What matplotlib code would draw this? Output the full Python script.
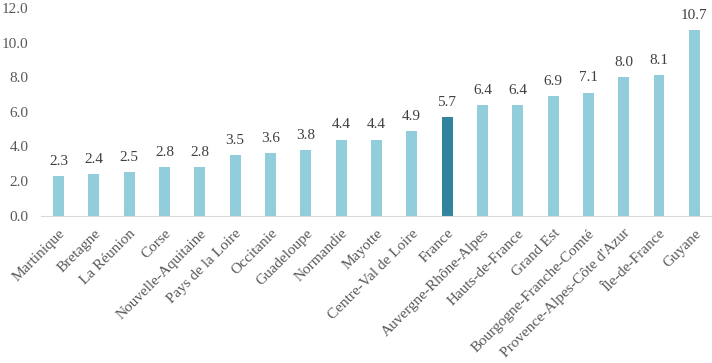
import matplotlib.pyplot as plt

regions = ["Martinique", "Bretagne", "La Réunion", "Corse", "Nouvelle-Aquitaine",
           "Pays de la Loire", "Occitanie", "Guadeloupe", "Normandie", "Mayotte",
           "Centre-Val de Loire", "France", "Auvergne-Rhône-Alpes", "Hauts-de-France",
           "Grand Est", "Bourgogne-Franche-Comté", "Provence-Alpes-Côte d'Azur",
           "Île-de-France", "Guyane"]
values = [2.3, 2.4, 2.5, 2.8, 2.8, 3.5, 3.6, 3.8, 4.4, 4.4, 4.9, 5.7, 6.4, 6.4,
          6.9, 7.1, 8.0, 8.1, 10.7]
highlight = "France"
yticks = [0, 2, 4, 6, 8, 10, 12]

plt.rcParams['font.family'] = ['Liberation Serif', 'DejaVu Serif']
txt = '#595959'

fig = plt.figure(figsize=(7.12, 3.63), dpi=100)
ax = fig.add_axes([0.0573, 0.4058, 0.9427, 0.5722])

colors = ['#31849B' if r == highlight else '#92CDDC' for r in regions]
x = range(len(regions))
bars = ax.bar(x, values, width=0.31, color=colors)

for b, v in zip(bars, values):
    ax.annotate(f"{v:.1f}", (b.get_x() + b.get_width() / 2, v),
                xytext=(0, 6), textcoords='offset points',
                ha='center', va='bottom', fontsize=11, color='#404040')

ax.set_xlim(-0.5, len(regions) - 0.5)
ax.set_ylim(0, 12)
ax.set_yticks(yticks)
ax.set_yticklabels([f"{t:.1f}" for t in yticks], fontsize=11, color=txt)
ax.set_xticks(list(x))
ax.set_xticklabels(regions, rotation=45, ha='right', rotation_mode='anchor',
                   fontsize=11, color=txt)
ax.tick_params(length=0)
ax.tick_params(axis='y', pad=9)
ax.tick_params(axis='x', pad=8)

for s in ['top', 'right', 'left']:
    ax.spines[s].set_visible(False)
ax.spines['bottom'].set_color('#d9d9d9')

fig.savefig('out.png', dpi=100)
